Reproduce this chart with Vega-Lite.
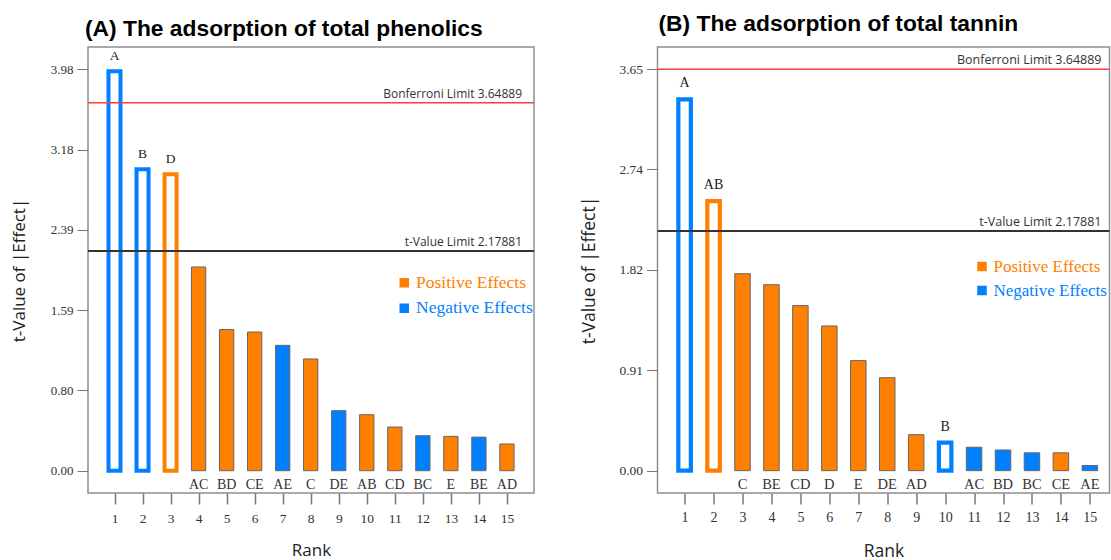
{
  "$schema": "https://vega.github.io/schema/vega-lite/v6.json",
  "padding": {"left": 9, "top": 12, "right": 1, "bottom": 0},
  "background": "white",
  "bounds": "flush",
  "spacing": 123.5,
  "config": {
    "view": {"stroke": "#8f8f8f", "strokeWidth": 1.5},
    "font": "Open Sans",
    "axis": {"grid": false, "domain": false, "labelOverlap": false}
  },
  "datasets": {
    "phenolics": [
      {"rank": 1, "term": "A", "t": 3.96, "effect": "Negative Effects", "inModel": true},
      {"rank": 2, "term": "B", "t": 2.99, "effect": "Negative Effects", "inModel": true},
      {"rank": 3, "term": "D", "t": 2.94, "effect": "Positive Effects", "inModel": true},
      {"rank": 4, "term": "AC", "t": 2.02, "effect": "Positive Effects", "inModel": false},
      {"rank": 5, "term": "BD", "t": 1.40, "effect": "Positive Effects", "inModel": false},
      {"rank": 6, "term": "CE", "t": 1.375, "effect": "Positive Effects", "inModel": false},
      {"rank": 7, "term": "AE", "t": 1.243, "effect": "Negative Effects", "inModel": false},
      {"rank": 8, "term": "C", "t": 1.108, "effect": "Positive Effects", "inModel": false},
      {"rank": 9, "term": "DE", "t": 0.595, "effect": "Negative Effects", "inModel": false},
      {"rank": 10, "term": "AB", "t": 0.555, "effect": "Positive Effects", "inModel": false},
      {"rank": 11, "term": "CD", "t": 0.433, "effect": "Positive Effects", "inModel": false},
      {"rank": 12, "term": "BC", "t": 0.347, "effect": "Negative Effects", "inModel": false},
      {"rank": 13, "term": "E", "t": 0.34, "effect": "Positive Effects", "inModel": false},
      {"rank": 14, "term": "BE", "t": 0.333, "effect": "Negative Effects", "inModel": false},
      {"rank": 15, "term": "AD", "t": 0.265, "effect": "Positive Effects", "inModel": false}
    ],
    "tannin": [
      {"rank": 1, "term": "A", "t": 3.374, "effect": "Negative Effects", "inModel": true},
      {"rank": 2, "term": "AB", "t": 2.45, "effect": "Positive Effects", "inModel": true},
      {"rank": 3, "term": "C", "t": 1.79, "effect": "Positive Effects", "inModel": false},
      {"rank": 4, "term": "BE", "t": 1.69, "effect": "Positive Effects", "inModel": false},
      {"rank": 5, "term": "CD", "t": 1.50, "effect": "Positive Effects", "inModel": false},
      {"rank": 6, "term": "D", "t": 1.315, "effect": "Positive Effects", "inModel": false},
      {"rank": 7, "term": "E", "t": 1.00, "effect": "Positive Effects", "inModel": false},
      {"rank": 8, "term": "DE", "t": 0.845, "effect": "Positive Effects", "inModel": false},
      {"rank": 9, "term": "AD", "t": 0.327, "effect": "Positive Effects", "inModel": false},
      {"rank": 10, "term": "B", "t": 0.254, "effect": "Negative Effects", "inModel": true},
      {"rank": 11, "term": "AC", "t": 0.213, "effect": "Negative Effects", "inModel": false},
      {"rank": 12, "term": "BD", "t": 0.188, "effect": "Negative Effects", "inModel": false},
      {"rank": 13, "term": "BC", "t": 0.162, "effect": "Negative Effects", "inModel": false},
      {"rank": 14, "term": "CE", "t": 0.162, "effect": "Positive Effects", "inModel": false},
      {"rank": 15, "term": "AE", "t": 0.047, "effect": "Negative Effects", "inModel": false}
    ]
  },
  "resolve": {"scale": {"color": "independent", "stroke": "independent"}, "legend": {"color": "independent"}},
  "hconcat": [
    {
      "width": 446,
      "height": 446,
      "title": {"text": "(A) The adsorption of total phenolics", "anchor": "start", "frame": "group", "font": "Liberation Sans", "fontSize": 22.8, "fontWeight": "bold", "color": "#000", "offset": 6, "dx": -3},
      "layer": [
        {
          "data": {"name": "phenolics"},
          "encoding": {
            "x": {"field": "rank", "type": "quantitative", "title": "Rank",
              "scale": {"domain": [0.233, 15.787], "nice": false, "zero": false},
              "axis": {"values": [1,2,3,4,5,6,7,8,9,10,11,12,13,14,15], "tickCount": 30, "format": "d", "labelOverlap": false, "labelBound": false, "tickSize": 11, "tickColor": "#777", "tickWidth": 1.5, "labelFont": "Liberation Serif", "labelFontSize": 13.5, "labelColor": "#333", "labelPadding": 7, "titleFont": "Open Sans", "titleFontSize": 17, "titleFontWeight": "normal", "titleColor": "#222", "titlePadding": 18}},
            "y": {"field": "t", "type": "quantitative", "title": "t-Value of |Effect|",
              "scale": {"domain": [-0.221, 4.201], "nice": false, "zero": false},
              "axis": {"values": [0, 0.796, 1.592, 2.388, 3.184, 3.98], "tickCount": 20, "format": ".2f", "labelOverlap": false, "tickSize": 11, "tickColor": "#777", "labelFont": "Liberation Serif", "labelFontSize": 13, "labelColor": "#333", "labelPadding": 4, "titleFont": "Open Sans", "titleFontSize": 17, "titleFontWeight": "normal", "titleColor": "#222", "titlePadding": 22}}
          },
          "layer": [
            {
              "transform": [{"filter": "!datum.inModel"}],
              "mark": {"type": "bar", "size": 14.3, "stroke": "#666", "strokeWidth": 1},
              "encoding": {
                "color": {"field": "effect", "type": "nominal",
                  "scale": {"domain": ["Positive Effects", "Negative Effects"], "range": ["#ff8000", "#0080ff"]},
                  "legend": {"orient": "none", "legendX": 307.5, "legendY": 227, "title": null, "symbolType": "square", "symbolSize": 64, "symbolStrokeColor": "#222", "symbolStrokeWidth": 1.5, "labelFont": "Liberation Serif", "labelFontSize": 17.5, "labelColor": {"expr": "datum.label == 'Positive Effects' ? '#ff8000' : '#0080ff'"}, "rowPadding": 6.5, "labelOffset": 3}}
              }
            },
            {
              "transform": [{"filter": "datum.inModel"}],
              "mark": {"type": "bar", "size": 12, "fill": "white", "strokeWidth": 4},
              "encoding": {
                "stroke": {"field": "effect", "type": "nominal",
                  "scale": {"domain": ["Positive Effects", "Negative Effects"], "range": ["#ff8000", "#0080ff"]},
                  "legend": null}
              }
            },
            {
              "transform": [{"filter": "!datum.inModel"}],
              "mark": {"type": "text", "font": "Liberation Serif", "fontSize": 14, "color": "#333", "baseline": "top", "dy": 7},
              "encoding": {"y": {"datum": 0}, "text": {"field": "term"}}
            },
            {
              "transform": [{"filter": "datum.inModel"}],
              "mark": {"type": "text", "font": "Liberation Serif", "fontSize": 13.5, "color": "#222", "baseline": "bottom", "dy": -8},
              "encoding": {"text": {"field": "term"}}
            }
          ]
        },
        {
          "data": {"values": [{"t": 3.64889, "label": "Bonferroni Limit 3.64889"}]},
          "layer": [
            {"mark": {"type": "rule", "color": "#ff3b3b", "strokeWidth": 1.5},
             "encoding": {"y": {"field": "t", "type": "quantitative", "title": "t-Value of |Effect|"}}},
            {"mark": {"type": "text", "align": "right", "baseline": "alphabetic", "dx": -7, "dy": -5, "font": "Open Sans", "fontSize": 12, "color": "#333"},
             "encoding": {"x": {"datum": 15.787, "title": "Rank"}, "y": {"field": "t", "type": "quantitative", "title": "t-Value of |Effect|"}, "text": {"field": "label"}}}
          ]
        },
        {
          "data": {"values": [{"t": 2.17881, "label": "t-Value Limit 2.17881"}]},
          "layer": [
            {"mark": {"type": "rule", "color": "#333333", "strokeWidth": 2},
             "encoding": {"y": {"field": "t", "type": "quantitative", "title": "t-Value of |Effect|"}}},
            {"mark": {"type": "text", "align": "right", "baseline": "alphabetic", "dx": -7, "dy": -5, "font": "Open Sans", "fontSize": 12, "color": "#333"},
             "encoding": {"x": {"datum": 15.787, "title": "Rank"}, "y": {"field": "t", "type": "quantitative", "title": "t-Value of |Effect|"}, "text": {"field": "label"}}}
          ]
        }
      ]
    },
    {
      "width": 452,
      "height": 446,
      "title": {"text": "(B) The adsorption of total tannin", "anchor": "start", "frame": "group", "font": "Liberation Sans", "fontSize": 22.8, "fontWeight": "bold", "color": "#000", "offset": 11, "dx": 1},
      "layer": [
        {
          "data": {"name": "tannin"},
          "encoding": {
            "x": {"field": "rank", "type": "quantitative", "title": "Rank",
              "scale": {"domain": [0.236, 15.506], "nice": false, "zero": false},
              "axis": {"values": [1,2,3,4,5,6,7,8,9,10,11,12,13,14,15], "tickCount": 30, "format": "d", "labelOverlap": false, "labelBound": false, "tickSize": 11, "tickColor": "#777", "tickWidth": 1.5, "labelFont": "Liberation Serif", "labelFontSize": 14, "labelColor": "#333", "labelPadding": 6, "titleFont": "Open Sans", "titleFontSize": 17.5, "titleFontWeight": "normal", "titleColor": "#222", "titlePadding": 18}},
            "y": {"field": "t", "type": "quantitative", "title": "t-Value of |Effect|",
              "scale": {"domain": [-0.203, 3.85], "nice": false, "zero": false},
              "axis": {"values": [0, 0.9125, 1.825, 2.7375, 3.65], "tickCount": 20, "format": ".2f", "labelOverlap": false, "tickSize": 11, "tickColor": "#777", "labelFont": "Liberation Serif", "labelFontSize": 13.5, "labelColor": "#333", "labelPadding": 4, "titleFont": "Open Sans", "titleFontSize": 17.5, "titleFontWeight": "normal", "titleColor": "#222", "titlePadding": 20}}
          },
          "layer": [
            {
              "transform": [{"filter": "!datum.inModel"}],
              "mark": {"type": "bar", "size": 15.5, "stroke": "#666", "strokeWidth": 1},
              "encoding": {
                "color": {"field": "effect", "type": "nominal",
                  "scale": {"domain": ["Positive Effects", "Negative Effects"], "range": ["#ff8000", "#0080ff"]},
                  "legend": {"orient": "none", "legendX": 316, "legendY": 211, "title": null, "symbolType": "square", "symbolSize": 64, "symbolStrokeColor": "#222", "symbolStrokeWidth": 1.5, "labelFont": "Liberation Serif", "labelFontSize": 17, "labelColor": {"expr": "datum.label == 'Positive Effects' ? '#ff8000' : '#0080ff'"}, "rowPadding": 6, "labelOffset": 3}}
              }
            },
            {
              "transform": [{"filter": "datum.inModel"}],
              "mark": {"type": "bar", "size": 12.5, "fill": "white", "strokeWidth": 4.2},
              "encoding": {
                "stroke": {"field": "effect", "type": "nominal",
                  "scale": {"domain": ["Positive Effects", "Negative Effects"], "range": ["#ff8000", "#0080ff"]},
                  "legend": null}
              }
            },
            {
              "transform": [{"filter": "!datum.inModel"}],
              "mark": {"type": "text", "font": "Liberation Serif", "fontSize": 14.5, "color": "#333", "baseline": "top", "dy": 7},
              "encoding": {"y": {"datum": 0}, "text": {"field": "term"}}
            },
            {
              "transform": [{"filter": "datum.inModel"}],
              "mark": {"type": "text", "font": "Liberation Serif", "fontSize": 14, "color": "#222", "baseline": "bottom", "dy": -9},
              "encoding": {"text": {"field": "term"}}
            }
          ]
        },
        {
          "data": {"values": [{"t": 3.64889, "label": "Bonferroni Limit 3.64889"}]},
          "layer": [
            {"mark": {"type": "rule", "color": "#ff3b3b", "strokeWidth": 1.5},
             "encoding": {"y": {"field": "t", "type": "quantitative", "title": "t-Value of |Effect|"}}},
            {"mark": {"type": "text", "align": "right", "baseline": "alphabetic", "dx": -3, "dy": -5, "font": "Open Sans", "fontSize": 12.5, "color": "#333"},
             "encoding": {"x": {"datum": 15.506, "title": "Rank"}, "y": {"field": "t", "type": "quantitative", "title": "t-Value of |Effect|"}, "text": {"field": "label"}}}
          ]
        },
        {
          "data": {"values": [{"t": 2.17881, "label": "t-Value Limit 2.17881"}]},
          "layer": [
            {"mark": {"type": "rule", "color": "#333333", "strokeWidth": 2},
             "encoding": {"y": {"field": "t", "type": "quantitative", "title": "t-Value of |Effect|"}}},
            {"mark": {"type": "text", "align": "right", "baseline": "alphabetic", "dx": -3, "dy": -5, "font": "Open Sans", "fontSize": 12.5, "color": "#333"},
             "encoding": {"x": {"datum": 15.506, "title": "Rank"}, "y": {"field": "t", "type": "quantitative", "title": "t-Value of |Effect|"}, "text": {"field": "label"}}}
          ]
        }
      ]
    }
  ]
}
